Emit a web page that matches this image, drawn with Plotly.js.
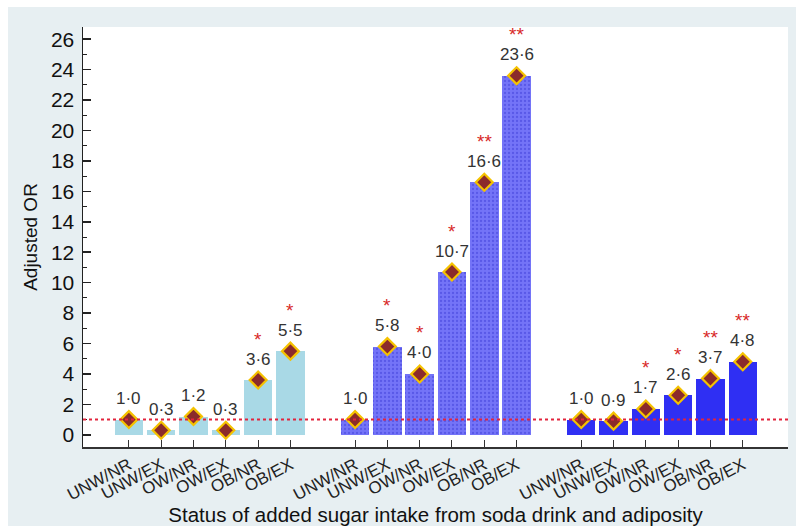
<!DOCTYPE html>
<html>
<head>
<meta charset="utf-8">
<script src="https://cdn.plot.ly/plotly-3.0.1.min.js"></script>
<style>
html,body{margin:0;padding:0;background:#ffffff;}
#chart{position:absolute;left:8px;top:7px;width:788px;height:519px;}
</style>
</head>
<body>
<div id="chart"></div>
<script>
const categories = ["UNW/NR","UNW/EX","OW/NR","OW/EX","OB/NR","OB/EX"];
const group1 = [1.0, 0.3, 1.2, 0.3, 3.6, 5.5];
const group2 = [1.0, 5.8, 4.0, 10.7, 16.6, 23.6];
const group3 = [1.0, 0.9, 1.7, 2.6, 3.7, 4.8];
const sig1 = ["", "", "", "", "*", "*"];
const sig2 = ["", "*", "*", "*", "**", "**"];
const sig3 = ["", "", "*", "*", "**", "**"];
const yTicks = [0,2,4,6,8,10,12,14,16,18,20,22,24,26];
const refValue = 1;

const FONT = "Liberation Sans, Arial, sans-serif";
const groups = [
  {vals: group1, sig: sig1, color: "#a9d9e6", pattern: null},
  {vals: group2, sig: sig2, color: "#6e6ef6", pattern: {shape: ".", fgcolor: "#5858e8", bgcolor: "#7474f8", size: 4, solidity: 0.25}},
  {vals: group3, sig: sig3, color: "#2f2ff3", pattern: null}
];

const traces = [];
const annotations = [];
const tickvals = [], ticktext = [];
groups.forEach((g, gi) => {
  const xs = categories.map((c, i) => gi * 7 + i);
  xs.forEach((x, i) => { tickvals.push(x); ticktext.push(categories[i]); });
  const marker = {color: g.color, line: {width: 0}};
  if (g.pattern) marker.pattern = g.pattern;
  traces.push({type: "bar", x: xs, y: g.vals, width: 0.88, marker: marker, hoverinfo: "skip"});
  traces.push({
    type: "scatter", mode: "markers", x: xs, y: g.vals, cliponaxis: false,
    marker: {symbol: "diamond", size: 13, color: "#8b2b2b", line: {color: "#f5c200", width: 2.2}},
    hoverinfo: "skip"
  });
  xs.forEach((x, i) => {
    annotations.push({
      x: x, y: g.vals[i], xref: "x", yref: "y", showarrow: false,
      text: g.vals[i].toFixed(1).replace(".", "·"), yshift: 21,
      font: {family: FONT, size: 17, color: "#333333"}
    });
    if (g.sig[i]) {
      annotations.push({
        x: x, y: g.vals[i], xref: "x", yref: "y", showarrow: false,
        text: g.sig[i], yshift: 41,
        font: {family: FONT, size: 19, color: "#d82828"}
      });
    }
  });
});

const layout = {
  width: 788, height: 519,
  paper_bgcolor: "#e7eff2",
  plot_bgcolor: "#ffffff",
  showlegend: false,
  margin: {l: 75, r: 8, t: 20, b: 79},
  bargap: 0,
  xaxis: {
    range: [-1.42, 20.4], tickvals: tickvals, ticktext: ticktext,
    tickangle: -28, ticks: "inside", ticklen: 7, tickcolor: "#333333", tickwidth: 1,
    showline: true, linecolor: "#333333", linewidth: 1.5, showgrid: false, zeroline: false,
    tickfont: {family: FONT, size: 17, color: "#222222"},
    automargin: false,
    title: {text: "Status of added sugar intake from soda drink and adiposity", standoff: 8,
      font: {family: FONT, size: 20.5, color: "#111111"}}
  },
  yaxis: {
    range: [-0.8, 26.8], tickvals: yTicks, ticks: "inside", ticklen: 8, tickcolor: "#222222", tickwidth: 1.5,
    minor: {dtick: 1, tick0: 1, ticks: "inside", ticklen: 4, tickcolor: "#222222", tickwidth: 1},
    showline: true, linecolor: "#222222", linewidth: 1.5, showgrid: false, zeroline: false,
    tickfont: {family: FONT, size: 21, color: "#111111"},
    ticklabelstandoff: 3, automargin: false,
    title: {text: "Adjusted OR", standoff: 8,
      font: {family: FONT, size: 19, color: "#111111"}}
  },
  shapes: [{
    type: "line", xref: "paper", x0: 0, x1: 1, yref: "y", y0: refValue, y1: refValue,
    line: {color: "#e2243c", width: 2, dash: "dot"}, layer: "above"
  }],
  annotations: annotations
};

Plotly.newPlot("chart", traces, layout, {displayModeBar: false, staticPlot: true});
</script>
</body>
</html>
